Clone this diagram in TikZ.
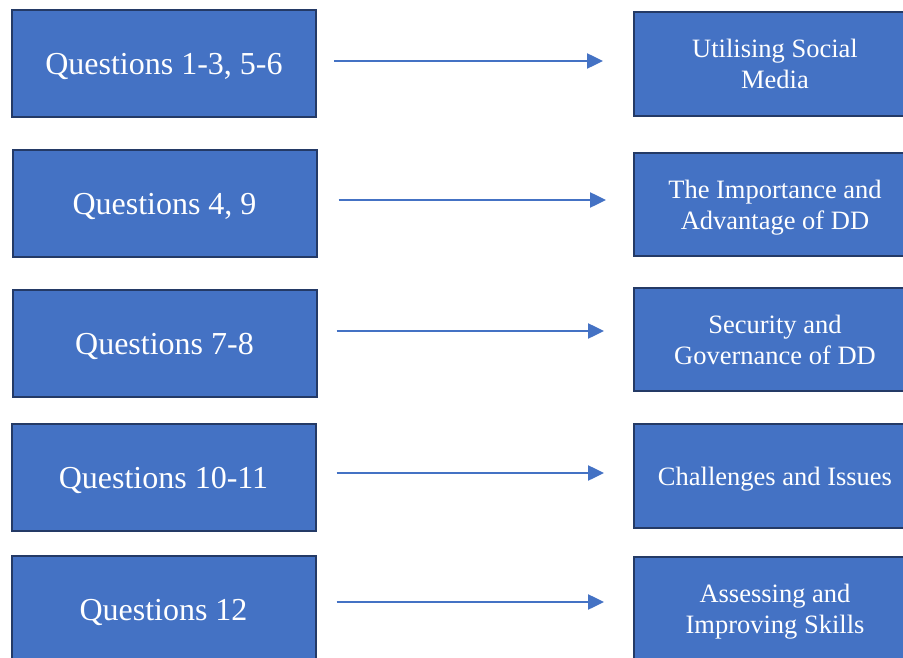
\documentclass[tikz,border=0pt]{standalone}
\usepackage{fontspec}
\setmainfont{Liberation Serif}
\usepackage{tikz}
\usetikzlibrary{arrows.meta}
\definecolor{boxblue}{HTML}{4472C4}
\definecolor{boxedge}{HTML}{243A66}

\begin{document}
\begin{tikzpicture}[x=1pt,y=-1pt]
						\tikzstyle{every node}+=[inner sep=0pt]
						\tikzstyle{qbox}=[draw=boxedge, line width=2pt, fill=boxblue, text=white, minimum width=304pt, minimum height=107pt, text depth=0pt, font=\fontsize{32}{38}\selectfont]
						\tikzstyle{tbox}=[draw=boxedge, line width=2pt, fill=boxblue, text=white, minimum width=282pt, minimum height=104pt, text depth=0pt, align=center, font=\fontsize{26.5}{31}\selectfont]
						\tikzstyle{arr}=[boxblue, line width=2.5pt, -{Triangle[length=16pt,width=15pt]}]
						\useasboundingbox (0,0) rectangle (903,658);
						\clip (0,0) rectangle (903,658);
						\node [qbox] (q1) at (164,63.5) {Questions 1-3, 5-6};
						\node [qbox] (q2) at (164.5,203.5) {Questions 4, 9};
						\node [qbox] (q3) at (164.5,343.5) {Questions 7-8};
						\node [qbox] (q4) at (163.5,477.5) {Questions 10-11};
						\node [qbox] (q5) at (163.5,609.5) {Questions 12};
						\node [tbox] (t1) at (775,64) {Utilising Social\\Media};
						\node [tbox, minimum height=103pt] (t2) at (775,204.5) {The Importance and\\Advantage of DD};
						\node [tbox, minimum height=103pt] (t3) at (775,339.5) {Security and\\Governance of DD};
						\node [tbox] (t4) at (775,476) {Challenges and Issues};
						\node [tbox] (t5) at (775,609) {Assessing and\\Improving Skills};
						\draw [arr] ([shift={(17,-2.5)}]q1.east) -- ([shift={(-30,-3)}]t1.west);
						\draw [arr] ([shift={(21,-3.5)}]q2.east) -- ([shift={(-27,-4.5)}]t2.west);
						\draw [arr] ([shift={(19,-12.5)}]q3.east) -- ([shift={(-29,-8.5)}]t3.west);
						\draw [arr] ([shift={(20,-4.5)}]q4.east) -- ([shift={(-29,-3)}]t4.west);
						\draw [arr] ([shift={(20,-7.5)}]q5.east) -- ([shift={(-29,-7)}]t5.west);
					\end{tikzpicture}
\end{document}
